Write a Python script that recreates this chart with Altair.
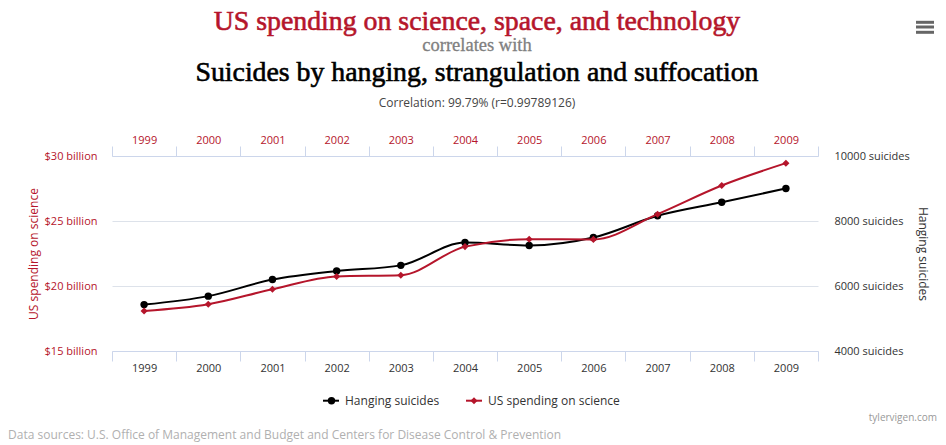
import altair as alt
import pandas as pd

# ---- data ----
years = ["1999", "2000", "2001", "2002", "2003", "2004", "2005", "2006", "2007", "2008", "2009"]
spending = [18.079, 18.594, 19.753, 20.734, 20.831, 23.029, 23.597, 23.584, 25.525, 27.731, 29.449]
hanging = [5427, 5688, 6198, 6462, 6635, 7336, 7248, 7491, 8161, 8578, 9000]
left_ticks = [15, 20, 25, 30]
right_ticks = [4000, 6000, 8000, 10000]

df = pd.DataFrame({"year": years, "spending": spending, "hanging": hanging})
one = pd.DataFrame({"k": [0]})

RED = "#b5152b"
AXC = "#ccd6eb"
GRID = "#dde2ea"
SANS = "Open Sans"
SERIF = "Liberation Serif"
W, H = 706, 195

xscale = alt.Scale(type="band", paddingInner=0, paddingOuter=0)

def xenc(orient, color):
    return alt.X(
        "year:O", scale=xscale, sort=years,
        axis=alt.Axis(orient=orient, title=None, labelAngle=0, domainColor=AXC,
                      tickColor=AXC, tickSize=10, tickBand="extent", labelColor=color,
                      labelFontSize=11, labelFont=SANS, labelPadding=1, grid=False,
                      domainWidth=1, tickWidth=1))

y_h = alt.Y("hanging:Q", scale=alt.Scale(domain=[4000, 10000], nice=False, zero=False),
            axis=alt.Axis(orient="right", values=right_ticks, labelExpr="datum.value + ' suicides'",
                          grid=False, domain=False, ticks=False, tickSize=0, labelPadding=16,
                          labelColor="#333", labelFontSize=11, labelFont=SANS,
                          title="Hanging suicides", titleColor="#333", titleFontSize=12,
                          titleFont=SANS, titleFontWeight="normal", titleAngle=90,
                          titleX=104, titleY=H / 2, titleAlign="center", titleBaseline="middle"))

y_s = alt.Y("spending:Q", scale=alt.Scale(domain=[15, 30], nice=False, zero=False),
            axis=alt.Axis(orient="left", values=left_ticks, labelExpr="'$' + datum.value + ' billion'",
                          grid=True, gridColor=GRID, domain=False, ticks=False, tickSize=0,
                          labelPadding=15, labelColor=RED, labelFontSize=11, labelFont=SANS,
                          title="US spending on science", titleColor=RED, titleFontSize=12,
                          titleFont=SANS, titleFontWeight="normal", titleAngle=270,
                          titleX=-79, titleY=H / 2, titleAlign="center", titleBaseline="middle"))

base = alt.Chart(df)
hang = alt.layer(
    base.mark_line(interpolate="monotone", color="black", strokeWidth=2).encode(x=xenc("bottom", "#333"), y=y_h),
    base.mark_point(filled=True, shape="circle", size=55, color="black", opacity=1).encode(x=xenc("bottom", "#333"), y=y_h),
)
spend = alt.layer(
    base.mark_line(interpolate="monotone", color=RED, strokeWidth=2).encode(x=xenc("top", RED), y=y_s),
    base.mark_point(filled=True, shape="diamond", size=50, color=RED, opacity=1).encode(x=xenc("top", RED), y=y_s),
)

def txt(s, x, y, size, color, font=SANS, align="center", baseline="alphabetic", sw=0.0):
    kw = dict(text=s, fontSize=size, color=color, font=font, align=align, baseline=baseline)
    if sw > 0:
        kw.update(stroke=color, strokeWidth=sw)
    return alt.Chart(one).mark_text(**kw).encode(x=alt.value(x), y=alt.value(y))

def seg(x1, x2, y, color, width=2):
    return alt.Chart(one).mark_rule(color=color, strokeWidth=width).encode(
        x=alt.value(x1), x2=alt.value(x2), y=alt.value(y))

texts = [
    txt("US spending on science, space, and technology", 365, -126.5, 27.8, RED, font=SERIF, sw=0.6),
    txt("correlates with", 365, -105, 18.5, "#808080", font=SERIF, sw=0.3),
    txt("Suicides by hanging, strangulation and suffocation", 365, -75, 27.8, "black", font=SERIF, sw=0.6),
    txt("Correlation: 99.79% (r=0.99789126)", 365, -49, 12, "#444"),
    # legend
    seg(211, 227, 244.7, "black"),
    alt.Chart(one).mark_point(filled=True, shape="circle", size=55, color="black", opacity=1).encode(
        x=alt.value(219.5), y=alt.value(244.7)),
    txt("Hanging suicides", 233, 244.7, 12, "#333", align="left", baseline="middle"),
    seg(354, 370, 244.7, RED),
    alt.Chart(one).mark_point(filled=True, shape="diamond", size=50, color=RED, opacity=1).encode(
        x=alt.value(362), y=alt.value(244.7)),
    txt("US spending on science", 376, 244.7, 12, "#333", align="left", baseline="middle"),
    # footer
    txt("tylervigen.com", 825, 265, 10, "#999", align="right"),
    txt("Data sources: U.S. Office of Management and Budget and Centers for Disease Control & Prevention",
        -104, 283, 12, "#b0b0b0", align="left"),
    # menu icon
    seg(804, 822, -133.7, "#666", 3),
    seg(804, 822, -129, "#666", 3),
    seg(804, 822, -123.7, "#666", 3),
]

chart = alt.layer(hang, spend, *texts).resolve_scale(y="independent").resolve_axis(
    x="independent", y="independent").properties(
    width=W, height=H,
    padding={"left": 104, "top": 148, "right": 120, "bottom": 96},
    autosize=alt.AutoSizeParams(type="none"),
    background="white",
).configure_view(stroke=None)

chart.save("out.html", embed_options={"renderer": "svg", "actions": False})
